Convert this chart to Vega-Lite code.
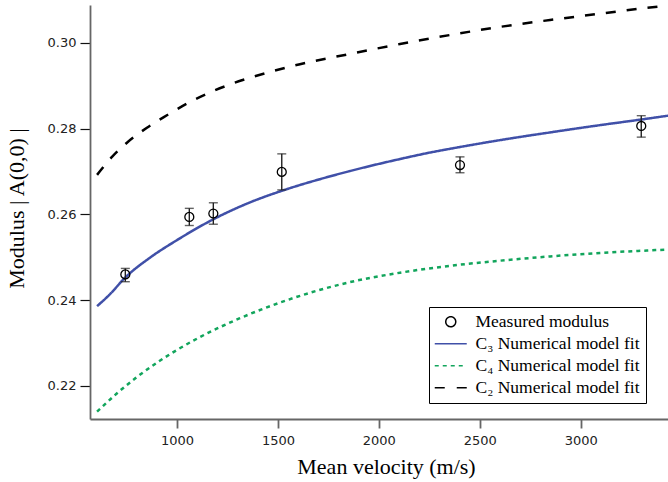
{
  "$schema": "https://vega.github.io/schema/vega-lite/v6.json",
  "width": 578,
  "height": 414,
  "autosize": {"type": "none"},
  "padding": {"left": 90, "top": 5, "right": 0, "bottom": 63},
  "datasets": {
    "curves": [
      {"series": "C₃ Numerical model fit", "x": 604, "y": 0.2386},
      {"series": "C₃ Numerical model fit", "x": 668, "y": 0.2414},
      {"series": "C₃ Numerical model fit", "x": 742, "y": 0.2452},
      {"series": "C₃ Numerical model fit", "x": 866, "y": 0.2499},
      {"series": "C₃ Numerical model fit", "x": 1000, "y": 0.2540},
      {"series": "C₃ Numerical model fit", "x": 1178, "y": 0.2588},
      {"series": "C₃ Numerical model fit", "x": 1362, "y": 0.2628},
      {"series": "C₃ Numerical model fit", "x": 1520, "y": 0.2655},
      {"series": "C₃ Numerical model fit", "x": 1708, "y": 0.2682},
      {"series": "C₃ Numerical model fit", "x": 1857, "y": 0.2701},
      {"series": "C₃ Numerical model fit", "x": 2105, "y": 0.2729},
      {"series": "C₃ Numerical model fit", "x": 2253, "y": 0.2744},
      {"series": "C₃ Numerical model fit", "x": 2402, "y": 0.2757},
      {"series": "C₃ Numerical model fit", "x": 2600, "y": 0.2773},
      {"series": "C₃ Numerical model fit", "x": 2848, "y": 0.2791},
      {"series": "C₃ Numerical model fit", "x": 3096, "y": 0.2808},
      {"series": "C₃ Numerical model fit", "x": 3299, "y": 0.2821},
      {"series": "C₃ Numerical model fit", "x": 3433, "y": 0.2830},
      {"series": "C₄ Numerical model fit", "x": 604, "y": 0.2140},
      {"series": "C₄ Numerical model fit", "x": 703, "y": 0.2183},
      {"series": "C₄ Numerical model fit", "x": 802, "y": 0.2221},
      {"series": "C₄ Numerical model fit", "x": 906, "y": 0.2256},
      {"series": "C₄ Numerical model fit", "x": 1000, "y": 0.2284},
      {"series": "C₄ Numerical model fit", "x": 1114, "y": 0.2314},
      {"series": "C₄ Numerical model fit", "x": 1312, "y": 0.2358},
      {"series": "C₄ Numerical model fit", "x": 1545, "y": 0.2400},
      {"series": "C₄ Numerical model fit", "x": 1857, "y": 0.2442},
      {"series": "C₄ Numerical model fit", "x": 2105, "y": 0.2464},
      {"series": "C₄ Numerical model fit", "x": 2352, "y": 0.2480},
      {"series": "C₄ Numerical model fit", "x": 2600, "y": 0.2492},
      {"series": "C₄ Numerical model fit", "x": 2848, "y": 0.2502},
      {"series": "C₄ Numerical model fit", "x": 3096, "y": 0.2510},
      {"series": "C₄ Numerical model fit", "x": 3433, "y": 0.2518},
      {"series": "C₂ Numerical model fit", "x": 604, "y": 0.2692},
      {"series": "C₂ Numerical model fit", "x": 678, "y": 0.2734},
      {"series": "C₂ Numerical model fit", "x": 752, "y": 0.2767},
      {"series": "C₂ Numerical model fit", "x": 851, "y": 0.2802},
      {"series": "C₂ Numerical model fit", "x": 950, "y": 0.2831},
      {"series": "C₂ Numerical model fit", "x": 1064, "y": 0.2862},
      {"series": "C₂ Numerical model fit", "x": 1263, "y": 0.2903},
      {"series": "C₂ Numerical model fit", "x": 1461, "y": 0.2932},
      {"series": "C₂ Numerical model fit", "x": 1609, "y": 0.2950},
      {"series": "C₂ Numerical model fit", "x": 1857, "y": 0.2974},
      {"series": "C₂ Numerical model fit", "x": 2105, "y": 0.2997},
      {"series": "C₂ Numerical model fit", "x": 2352, "y": 0.3018},
      {"series": "C₂ Numerical model fit", "x": 2600, "y": 0.3037},
      {"series": "C₂ Numerical model fit", "x": 2848, "y": 0.3053},
      {"series": "C₂ Numerical model fit", "x": 3081, "y": 0.3067},
      {"series": "C₂ Numerical model fit", "x": 3304, "y": 0.3080},
      {"series": "C₂ Numerical model fit", "x": 3433, "y": 0.3087}
    ],
    "measured": [
      {"series": "Measured modulus", "x": 744, "y": 0.2460, "lo": 0.2443, "hi": 0.2474},
      {"series": "Measured modulus", "x": 1061, "y": 0.2594, "lo": 0.2574, "hi": 0.2614},
      {"series": "Measured modulus", "x": 1180, "y": 0.2602, "lo": 0.2577, "hi": 0.2627},
      {"series": "Measured modulus", "x": 1519, "y": 0.2699, "lo": 0.2657, "hi": 0.2741},
      {"series": "Measured modulus", "x": 2402, "y": 0.2715, "lo": 0.2697, "hi": 0.2734},
      {"series": "Measured modulus", "x": 3300, "y": 0.2806, "lo": 0.2780, "hi": 0.2830}
    ]
  },
  "layer": [
    {
      "data": {"name": "curves"},
      "mark": {"type": "line", "strokeWidth": 2.5, "clip": true, "interpolate": "monotone"},
      "encoding": {
        "x": {"field": "x", "type": "quantitative", "title": "Mean velocity (m/s)",
              "scale": {"domain": [569, 3432.5], "nice": false, "zero": false},
              "axis": {"values": [1000, 1500, 2000, 2500, 3000], "format": "d"}},
        "y": {"field": "y", "type": "quantitative", "title": "Modulus | A(0,0) |",
              "scale": {"domain": [0.2123, 0.3088], "nice": false, "zero": false},
              "axis": {"values": [0.22, 0.24, 0.26, 0.28, 0.30], "format": ".2f"}},
        "color": {
          "field": "series", "type": "nominal",
          "scale": {
            "domain": ["Measured modulus", "C₃ Numerical model fit", "C₄ Numerical model fit", "C₂ Numerical model fit"],
            "range": ["#000000", "#4050a8", "#12a55c", "#000000"]
          },
          "legend": {
            "orient": "none", "legendX": 339, "legendY": 302, "title": null,
            "padding": 6, "rowPadding": 3, "symbolSize": 100, "symbolOffset": 7,
            "labelOffset": 16, "labelLimit": 400,
            "labelFont": "Liberation Serif", "labelFontSize": 17.5, "labelColor": "#000",
            "strokeColor": "#000", "fillColor": "#fff",
            "labelExpr": "datum.label + '     '",
            "encode": {
              "symbols": {
                "update": {
                  "shape": {"signal": "datum.value === 'Measured modulus' ? 'circle' : 'M-3.2,0H3.2'"},
                  "strokeDash": {"signal": "datum.value === 'C₄ Numerical model fit' ? [4,4] : (datum.value === 'C₂ Numerical model fit' ? [10,12] : [1,0])"},
                  "fill": {"value": "transparent"},
                  "stroke": {"signal": "scale('color', datum.value)"},
                  "opacity": {"value": 1}
                }
              }
            }
          }
        },
        "strokeDash": {
          "field": "series", "type": "nominal",
          "scale": {"domain": ["C₃ Numerical model fit", "C₄ Numerical model fit", "C₂ Numerical model fit"], "range": [[1, 0], [4, 4], [10, 11]]},
          "legend": null
        }
      }
    },
    {
      "data": {"name": "measured"},
      "mark": {"type": "rule", "color": "#222", "strokeWidth": 1.4},
      "encoding": {
        "x": {"field": "x", "type": "quantitative", "title": "Mean velocity (m/s)"},
        "y": {"field": "lo", "type": "quantitative", "title": "Modulus | A(0,0) |"},
        "y2": {"field": "hi"}
      }
    },
    {
      "data": {"name": "measured"},
      "mark": {"type": "tick", "orient": "horizontal", "color": "#222", "size": 9, "thickness": 1.4},
      "encoding": {
        "x": {"field": "x", "type": "quantitative", "title": "Mean velocity (m/s)"},
        "y": {"field": "lo", "type": "quantitative", "title": "Modulus | A(0,0) |"}
      }
    },
    {
      "data": {"name": "measured"},
      "mark": {"type": "tick", "orient": "horizontal", "color": "#222", "size": 9, "thickness": 1.4},
      "encoding": {
        "x": {"field": "x", "type": "quantitative", "title": "Mean velocity (m/s)"},
        "y": {"field": "hi", "type": "quantitative", "title": "Modulus | A(0,0) |"}
      }
    },
    {
      "data": {"name": "measured"},
      "mark": {"type": "point", "shape": "circle", "filled": false, "size": 80, "strokeWidth": 1.3, "opacity": 1},
      "encoding": {
        "x": {"field": "x", "type": "quantitative", "title": "Mean velocity (m/s)"},
        "y": {"field": "y", "type": "quantitative", "title": "Modulus | A(0,0) |"},
        "color": {"field": "series", "type": "nominal"}
      }
    }
  ],
  "config": {
    "view": {"stroke": null},
    "axis": {
      "grid": false, "domainColor": "#666", "domainWidth": 1.8,
      "labelFont": "DejaVu Sans", "labelFontSize": 13, "labelColor": "#222",
      "titleFont": "Liberation Serif", "titleFontSize": 22, "titleFontWeight": "normal", "titleColor": "#000",
      "tickSize": 9, "labelPadding": 4
    },
    "axisX": {"titleX": 296, "titleY": 54.5, "titleBaseline": "alphabetic", "titleAlign": "center",
              "labelPadding": 6, "tickWidth": 1.8, "tickColor": "#666"},
    "axisY": {"titleX": -67, "titleY": 203, "titleBaseline": "alphabetic", "titleAlign": "center", "titleAngle": -90,
              "tickWidth": 1.2, "tickColor": "#111", "tickSize": 10}
  }
}
